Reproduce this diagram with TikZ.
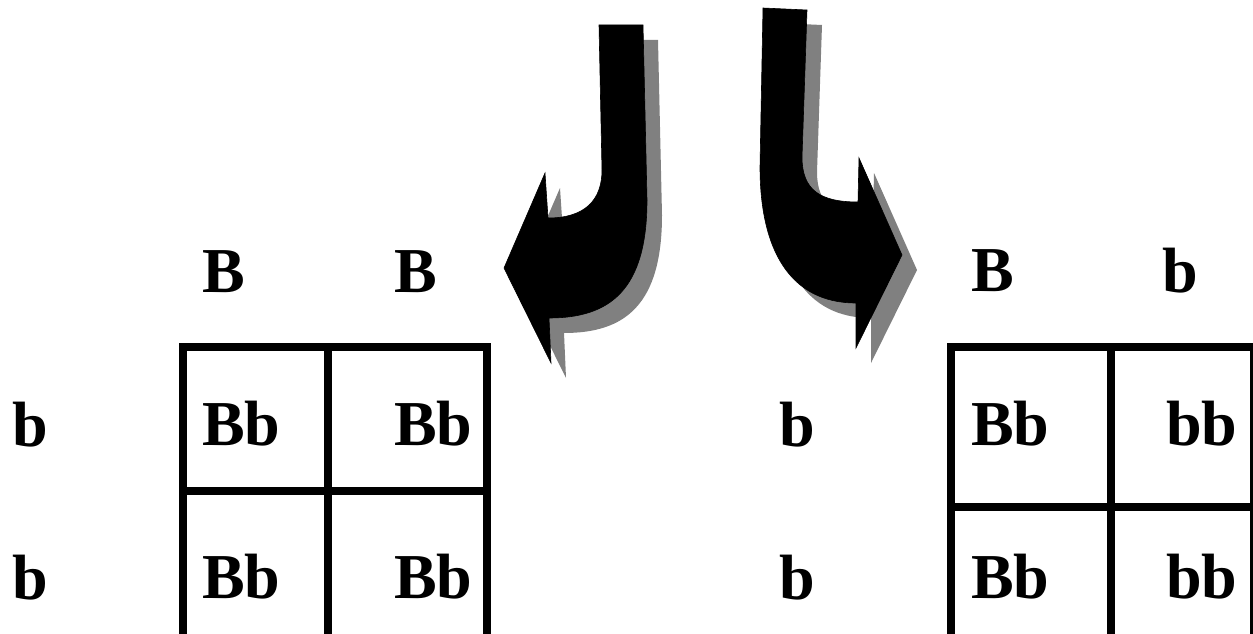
\documentclass[tikz,border=0pt]{standalone}
\usepackage{fontspec}
\setmainfont{Liberation Serif}
\begin{document}
\begin{tikzpicture}[x=1pt,y=-1pt,
  lbl/.style={anchor=base west,inner sep=0pt,font=\fontsize{64}{64}\selectfont\bfseries},
  gridline/.style={line width=8pt,line cap=rect},
  shadowfill/.style={fill=black!50,draw=none},
  arrowfill/.style={fill=black,draw=black,line width=0.6pt}]
\useasboundingbox (0,0) rectangle (1253,634);
\def\leftarrowpath{(599,25) -- (643,25) -- (647,200) .. controls (647,290) and (610,318) .. (549,318) -- (551,363) -- (504,268) -- (545,173) -- (548,218) .. controls (585,218) and (602,200) .. (602,170) -- cycle}
\def\rightarrowpath{(763,8) -- (807,10) -- (802,157) .. controls (802,190) and (820,202) .. (858,202) -- (859,158) -- (902,255) -- (856,348) -- (856,303) .. controls (790,303) and (760,250) .. (760,167) -- cycle}
% arrows
\fill[shadowfill,shift={(15,15)}] \leftarrowpath;
\filldraw[arrowfill] \leftarrowpath;
\fill[shadowfill,shift={(15,15)}] \rightarrowpath;
\filldraw[arrowfill] \rightarrowpath;
% left grid
\draw[gridline] (183,640) -- (183,347) -- (487,347) -- (487,640);
\draw[gridline] (328,347) -- (328,640);
\draw[gridline] (183,491) -- (487,491);
% right grid
\draw[gridline] (951,640) -- (951,347) -- (1260,347);
\draw[gridline] (1111,347) -- (1111,640);
\draw[gridline] (951,507) -- (1260,507);
\draw[gridline] (1254,347) -- (1254,640);
% left labels
\node[lbl] (lB1) at (202,292) {B};
\node[lbl] (lB2) at (394,292) {B};
\node[lbl] (lb1) at (12,446) {b};
\node[lbl] (lb2) at (12,599) {b};
\node[lbl] (l11) at (202,445) {Bb};
\node[lbl] (l12) at (394,445) {Bb};
\node[lbl] (l21) at (202,598) {Bb};
\node[lbl] (l22) at (394,598) {Bb};
% right labels
\node[lbl] (rB) at (971,291) {B};
\node[lbl] (rb) at (1162,292) {b};
\node[lbl] (rb1) at (779,446) {b};
\node[lbl] (rb2) at (779,599) {b};
\node[lbl] (r11) at (971,445) {Bb};
\node[lbl] (r12) at (1166,445) {bb};
\node[lbl] (r21) at (971,598) {Bb};
\node[lbl] (r22) at (1166,598) {bb};
\end{tikzpicture}
\end{document}
